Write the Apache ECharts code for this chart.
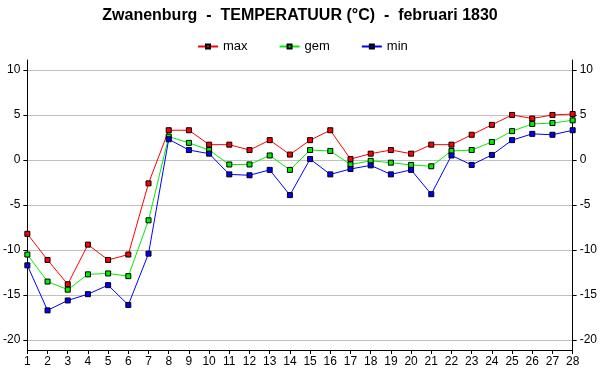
<!DOCTYPE html>
<html><head><meta charset="utf-8">
<script src="https://cdn.jsdelivr.net/npm/echarts@6/dist/echarts.min.js"></script>
<style>html,body{margin:0;padding:0;background:#fff}#c{width:600px;height:390px}</style>
</head><body><div id="c"></div>
<script>
const days = ['1','2','3','4','5','6','7','8','9','10','11','12','13','14','15','16','17','18','19','20','21','22','23','24','25','26','27','28'];
const maxT = [-8.2,-11.1,-13.8,-9.4,-11.1,-10.5,-2.6,3.3,3.3,1.7,1.7,1.1,2.2,0.6,2.2,3.3,0.1,0.7,1.1,0.7,1.7,1.7,2.8,3.9,5.0,4.6,5.0,5.1];
const gemT = [-10.5,-13.5,-14.4,-12.7,-12.6,-12.9,-6.7,2.6,1.9,1.1,-0.5,-0.5,0.5,-1.1,1.1,1.0,-0.5,-0.1,-0.3,-0.55,-0.7,1.0,1.1,2.0,3.2,4.0,4.1,4.4];
const minT = [-11.7,-16.7,-15.6,-14.9,-13.9,-16.1,-10.4,2.3,1.1,0.7,-1.6,-1.7,-1.1,-3.9,0.1,-1.6,-1.0,-0.6,-1.6,-1.1,-3.8,0.5,-0.55,0.56,2.2,2.9,2.8,3.3];
const yTicks = [-20,-15,-10,-5,0,5,10];
const names = ['max','gem','min'];
const colors = ['#ff0000','#00ee00','#0000ff'];
const font = 'Liberation Sans, Arial, sans-serif';
const chart = echarts.init(document.getElementById('c'));
const yAxisBase = (pos) => ({
  type:'value', position:pos, min:-21.1, max:11.1,
  axisLine:{show:true,onZero:false,lineStyle:{color:'#000',width:1}},
  axisTick:{show:true,length:4,lineStyle:{color:'#000'},customValues:yTicks},
  axisLabel:{color:'#000',fontFamily:font,fontSize:12,margin:7,customValues:yTicks},
  splitLine:{show:pos==='left',lineStyle:{color:'#c0c0c0',width:1},customValues:yTicks},
});
chart.setOption({
  animation:false,
  title:{text:'Zwanenburg  -  TEMPERATUUR (°C)  -  februari 1830',left:'center',top:3,
    textStyle:{fontFamily:font,fontSize:16,fontWeight:'bold',color:'#000'}},
  legend:{data:names,top:35,left:192,itemWidth:20,itemHeight:5,itemGap:31,
    textStyle:{fontFamily:font,fontSize:13,color:'#000'}},
  grid:{left:25,right:25,top:60,bottom:40},
  xAxis:{type:'category',data:days,boundaryGap:false,
    axisLine:{onZero:false,lineStyle:{color:'#000',width:1}},
    axisTick:{show:true,length:4,alignWithLabel:true,lineStyle:{color:'#000'}},
    axisLabel:{color:'#000',fontFamily:font,fontSize:12,margin:6,interval:0},
    splitLine:{show:false}},
  yAxis:[yAxisBase('left'), yAxisBase('right')],
  series:[maxT,gemT,minT].map((d,i)=>({
    name:names[i],type:'line',data:d,yAxisIndex:0,
    symbol:'rect',symbolSize:5,showAllSymbol:true,
    lineStyle:{color:colors[i],width:1},
    itemStyle:{color:colors[i],borderColor:'#000',borderWidth:1},
    emphasis:{disabled:true}
  }))
});
</script></body></html>
